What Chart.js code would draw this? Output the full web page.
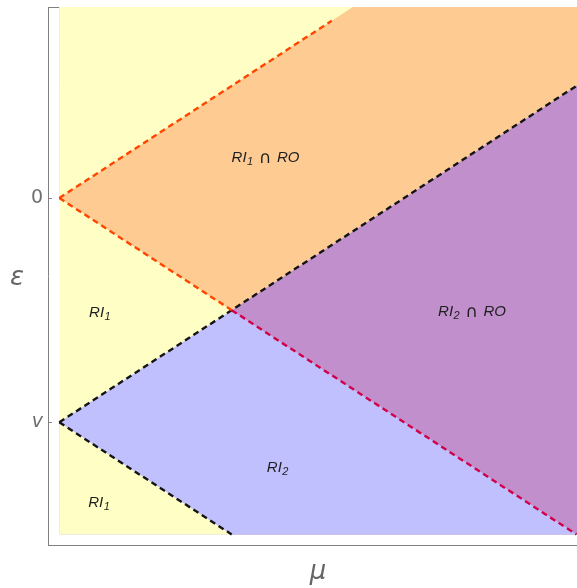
<!DOCTYPE html>
<html>
<head>
<meta charset="utf-8">
<script src="https://cdn.jsdelivr.net/npm/chart.js@4/dist/chart.umd.min.js"></script>
<style>
  html, body { margin: 0; padding: 0; background: #fff; }
  #wrap { width: 577px; height: 588px; position: relative; }
</style>
</head>
<body>
<div id="wrap"><canvas id="c" width="577" height="588"></canvas></div>
<script>
// ---- data (μ, ε); v = -1 ----
const muRange = [-0.0655, 3.003];
const epsRange = [-1.547, 0.8515];
const yTickValues = [-1, 0];
const yTickLabels = ['v', '0'];

// region boundaries
const fillBottom = [{x: 0, y: -1.5}, {x: 3.003, y: -1.5}];
const orangeLower = [{x: 0, y: 0}, {x: 1, y: -0.5}, {x: 3.003, y: 0.5015}];
const yellowUpperEdge = [{x: 0, y: 0}, {x: 2, y: 1}];
const purpleUpper = [{x: 1, y: -0.5}, {x: 3.003, y: 0.5015}];
const blueUpper = [{x: 0, y: -1}, {x: 1, y: -0.5}, {x: 3.003, y: -1.5}];
const blueLower = [{x: 0, y: -1}, {x: 1, y: -1.5}];

// dashed boundary lines
const redUp = [{x: 0, y: 0}, {x: 1.58, y: 0.79}];
const redDown = [{x: 0, y: 0}, {x: 1, y: -0.5}];
const blackUp = [{x: 0, y: -1}, {x: 3.0, y: 0.5}];
const blackDown = [{x: 0, y: -1}, {x: 1, y: -1.5}];
const crimsonDown = [{x: 1, y: -0.5}, {x: 3.0, y: -1.5}];

// region labels
const labelMain = ['RI', 'RI', 'RI', 'RI', 'RI'];
const labelSub = ['1', '1', '2', '2', '1'];
const labelTail = [' \u2229 RO', '', ' \u2229 RO', '', ''];
const labelMu = [1.196, 0.237, 2.394, 1.268, 0.232];
const labelEps = [0.183, -0.509, -0.504, -1.201, -1.357];

const YELLOW = '#FFFEC4';
const ORANGE = '#FECC92';
const PURPLE = '#C08FCC';
const BLUE = '#C0C0FE';

function region(data, fill, color, order) {
  return { data, fill, backgroundColor: color, borderWidth: 0, borderColor: 'rgba(0,0,0,0)',
           pointRadius: 0, tension: 0, order };
}
function dashed(data, color) {
  return { data, fill: false, borderColor: color, borderWidth: 2.4, borderDash: [6, 4],
           pointRadius: 0, tension: 0, order: 0, borderCapStyle: 'butt' };
}

const labelsPlugin = {
  id: 'labelsPlugin',
  afterDatasetsDraw(chart) {
    const ctx = chart.ctx;
    const xs = chart.scales.x, ys = chart.scales.y;
    ctx.save();
    ctx.fillStyle = '#1e1e1e';
    ctx.textBaseline = 'alphabetic';
    ctx.textAlign = 'left';
    for (let i = 0; i < labelMain.length; i++) {
      const px = xs.getPixelForValue(labelMu[i]);
      const py = ys.getPixelForValue(labelEps[i]) + 5;
      const fMain = 'italic 15px "Liberation Sans", Arial, sans-serif';
      const fSub = 'italic 11px "Liberation Sans", Arial, sans-serif';
      const fCap = '17px "DejaVu Sans", sans-serif';
      ctx.font = fMain; const w1 = ctx.measureText(labelMain[i]).width;
      const tail = labelTail[i];
      let wCap = 0, wRO = 0;
      if (tail) {
        ctx.font = fCap; wCap = ctx.measureText(' \u2229 ').width;
        ctx.font = fMain; wRO = ctx.measureText('RO').width;
      }
      ctx.font = fSub; const w2 = ctx.measureText(labelSub[i]).width + 1;
      let x0 = px - (w1 + w2 + wCap + wRO) / 2;
      ctx.font = fMain; ctx.fillText(labelMain[i], x0, py);
      ctx.font = fSub; ctx.fillText(labelSub[i], x0 + w1 + 0.5, py + 3);
      if (tail) {
        ctx.font = fCap; ctx.fillText(' \u2229 ', x0 + w1 + w2, py + 1);
        ctx.font = fMain; ctx.fillText('RO', x0 + w1 + w2 + wCap, py);
      }
    }
    // small inward tick marks on the left frame
    ctx.strokeStyle = '#888';
    ctx.lineWidth = 1;
    for (const v of yTickValues) {
      const y = Math.round(ys.getPixelForValue(v)) + 0.5;
      ctx.beginPath();
      ctx.moveTo(chart.chartArea.left + 1, y);
      ctx.lineTo(chart.chartArea.left + 4, y);
      ctx.stroke();
    }
    // axis titles
    ctx.fillStyle = '#666';
    ctx.font = 'italic 26px "DejaVu Sans", sans-serif';
    ctx.textAlign = 'center';
    ctx.textBaseline = 'middle';
    ctx.fillText('\u03B5', 17, (chart.chartArea.top + chart.chartArea.bottom) / 2 + 2);
    ctx.fillText('\u03BC', 318, 572);
    ctx.restore();
  }
};

new Chart(document.getElementById('c'), {
  type: 'line',
  data: {
    datasets: [
      dashed(redUp, '#FF4500'),
      dashed(redDown, '#FF4500'),
      dashed(crimsonDown, '#D2004A'),
      dashed(blackUp, '#141414'),
      dashed(blackDown, '#141414'),
      region(blueLower, {value: -1.5}, YELLOW, 1),
      region(blueUpper, {value: -1.5}, BLUE, 2),
      region(purpleUpper, {value: -1.5}, PURPLE, 3),
      region(yellowUpperEdge, 'end', YELLOW, 4),
      region(orangeLower, 'end', ORANGE, 5),
      region(fillBottom, 'end', YELLOW, 6)
    ]
  },
  options: {
    responsive: false,
    animation: false,
    events: [],
    layout: { padding: 0 },
    plugins: { legend: { display: false }, tooltip: { enabled: false }, title: { display: false } },
    scales: {
      x: {
        type: 'linear', position: 'bottom', min: muRange[0], max: muRange[1],
        ticks: { display: false }, grid: { display: false },
        border: { display: true, color: '#808080', width: 1 },
        afterFit: s => { s.height = 43; s.paddingLeft = 0; s.paddingRight = 0; }
      },
      xTop: {
        type: 'linear', position: 'top', min: muRange[0], max: muRange[1],
        ticks: { display: false }, grid: { display: false },
        border: { display: true, color: '#808080', width: 1 },
        afterFit: s => { s.height = 7; s.paddingLeft = 0; s.paddingRight = 0; }
      },
      y: {
        type: 'linear', position: 'left', min: epsRange[0], max: epsRange[1],
        afterBuildTicks: s => { s.ticks = yTickValues.map(v => ({ value: v })); },
        ticks: {
          callback: (v) => yTickLabels[yTickValues.indexOf(v)],
          color: '#707070',
          padding: 5,
          font: (ctx) => ({ family: '"DejaVu Sans", sans-serif', size: 19,
                            style: (ctx.tick && ctx.tick.value === -1) ? 'italic' : 'normal' })
        },
        grid: { display: false, drawTicks: false },
        border: { display: true, color: '#808080', width: 1 },
        afterFit: s => { s.width = 48; s.paddingTop = 0; s.paddingBottom = 0; }
      }
    }
  },
  plugins: [labelsPlugin]
});
</script>
</body>
</html>
